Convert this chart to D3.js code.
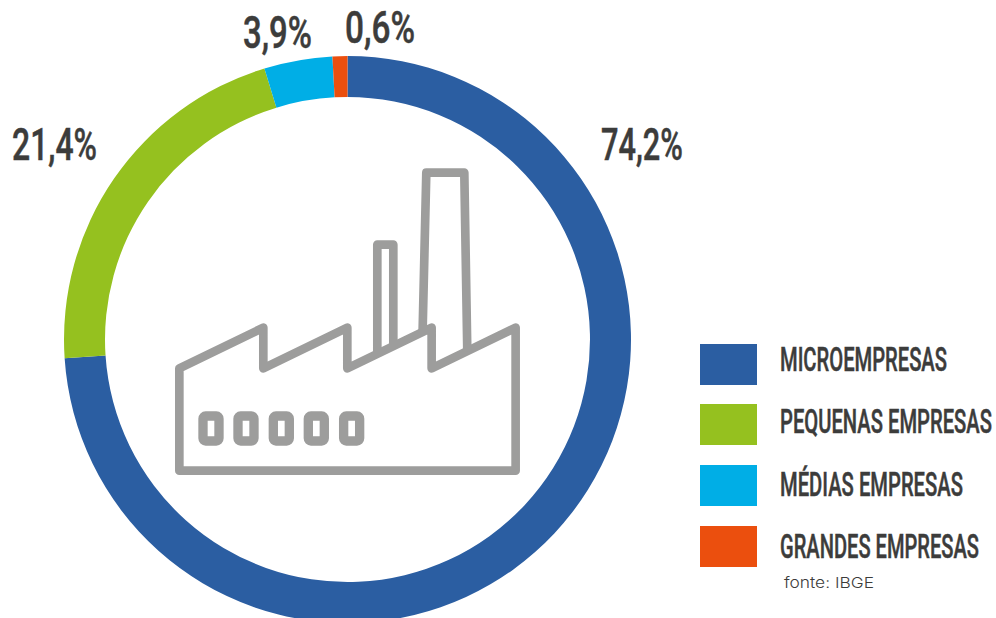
<!DOCTYPE html>
<html><head><meta charset="utf-8">
<style>html,body{margin:0;padding:0;background:#fff;overflow:hidden}svg{display:block}</style>
<script src="https://cdn.jsdelivr.net/npm/d3@7"></script></head>
<body><svg id="c" width="996" height="618"></svg>
<script>
const categories = ["MICROEMPRESAS","PEQUENAS EMPRESAS","MÉDIAS EMPRESAS","GRANDES EMPRESAS"];
const arcShares = [74.2,21.4,3.9,0.85];
const valueLabels = ["74,2%","21,4%","3,9%","0,6%"];
const colors = ["#2b5ea2","#95c11f","#00aee6","#eb4f0e"];
const source = "fonte: IBGE";
const ink = "#3c3c3b", iconGrey = "#9d9d9c";
const condensed = "Roboto,'Liberation Sans Narrow',sans-serif";

const svg = d3.select("#c");
const cx = 347.5, cy = 339.5, rOuter = 283.5, rInner = 242.5;

const pie = d3.pie().sort(null).value(d => d);
const arc = d3.arc().innerRadius(rInner).outerRadius(rOuter);
svg.append("g").attr("transform",`translate(${cx},${cy})`)
  .selectAll("path").data(pie(arcShares)).join("path")
  .attr("d",arc).attr("fill",(d,i)=>colors[i]);

// squeezes a text horizontally to the width it has in the reference
function fit(sel, xOf, yOf, wOf){
  sel.each(function(d,i){
    const natural = this.getComputedTextLength();
    d3.select(this).attr("transform",`translate(${xOf(i)},${yOf(i)}) scale(${wOf(i)/natural},1)`);
  });
}

const labelPos = [[601,160,82],[12,160,85],[243,48,69],[345,43,70]];
svg.append("g").selectAll("text").data(valueLabels).join("text")
  .attr("font-family",condensed).attr("font-size",45).attr("font-weight",500)
  .attr("stroke",ink).attr("stroke-width",0.5)
  .attr("fill",ink).text(d=>d)
  .call(fit,i=>labelPos[i][0],i=>labelPos[i][1],i=>labelPos[i][2]);

// factory icon (decorative)
const icon = svg.append("g").attr("transform","translate(160,150) scale(0.3333)")
  .attr("fill","none").attr("stroke",iconGrey).attr("stroke-width",26).attr("stroke-linejoin","round");
icon.append("path").attr("d","M58 962V655L310 533V655L562 533V655L815 533V655L1067 533V962Z");
icon.append("path").attr("d","M652 612V284H700V590");
icon.append("path").attr("d","M788 540L799 68H913L922 604");
[129,234,340,445,551].forEach(x=>{
  icon.append("rect").attr("x",x).attr("y",798).attr("width",48).attr("height",75).attr("rx",8).attr("stroke-width",28);
});

// legend
const swatchY = [344,404,465,526], textBase = [370.5,432.5,495.5,557.5], textW = [167,212,183,199];
const legend = svg.append("g");
legend.selectAll("rect").data(categories).join("rect")
  .attr("x",700).attr("y",(d,i)=>swatchY[i]).attr("width",57).attr("height",41)
  .attr("fill",(d,i)=>colors[i]);
legend.selectAll("text").data(categories).join("text")
  .attr("font-family",condensed).attr("font-size",33).attr("font-weight",500)
  .attr("stroke",ink).attr("stroke-width",0.5)
  .attr("fill",ink).text(d=>d)
  .call(fit,()=>780,i=>textBase[i],i=>textW[i]);
svg.append("text").attr("font-family","Inter,Lato,sans-serif").attr("font-weight",300).attr("font-size",15)
  .attr("fill",ink).text(source)
  .call(fit,()=>784,()=>588,()=>90);
</script></body></html>
